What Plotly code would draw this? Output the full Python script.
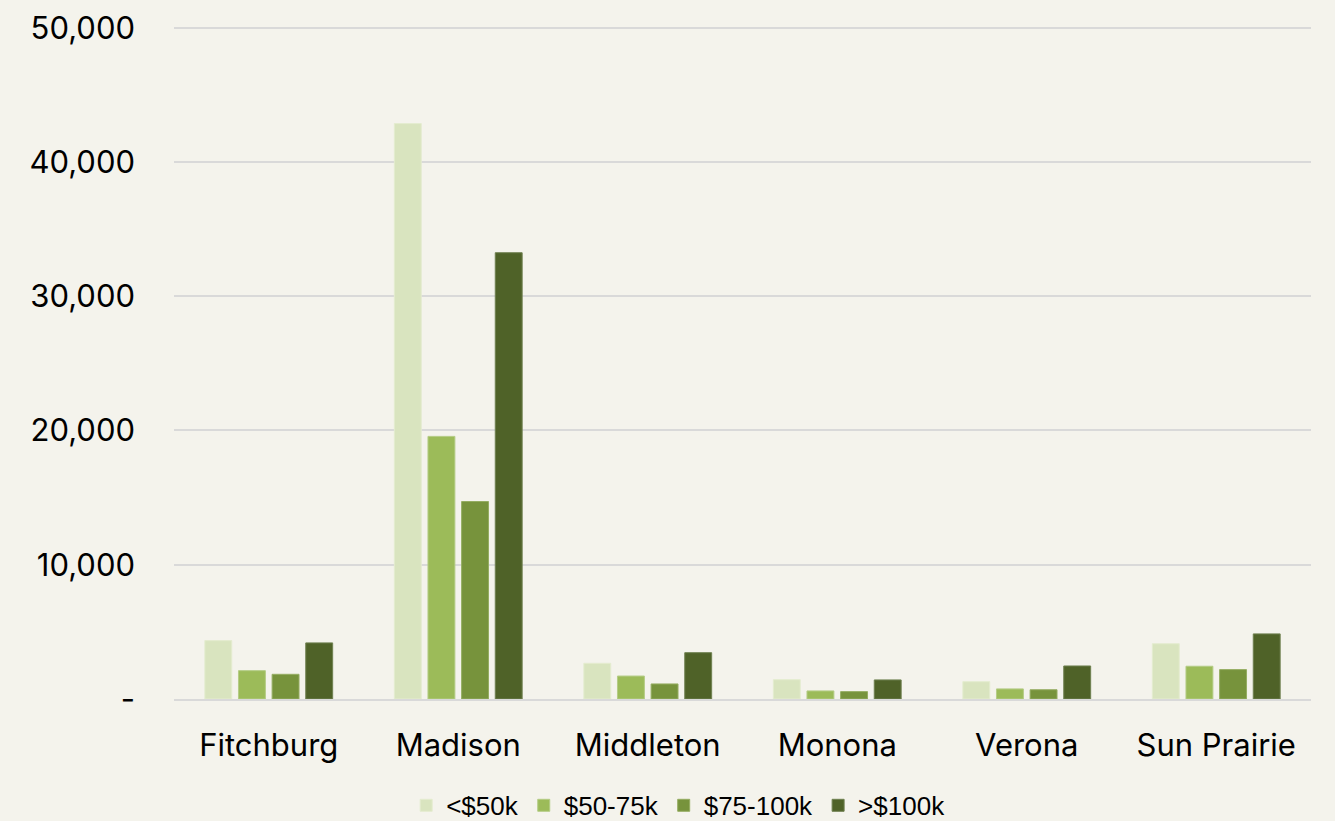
import plotly.graph_objects as go

# Household counts by income bracket for Dane County communities
cities = ["Fitchburg", "Madison", "Middleton", "Monona", "Verona", "Sun Prairie"]

under_50k = [4350, 42860, 2660, 1440, 1290, 4120]
from_50_75k = [2110, 19560, 1710, 600, 750, 2440]
from_75_100k = [1840, 14710, 1120, 550, 690, 2190]
over_100k = [4180, 33240, 3450, 1420, 2460, 4850]

series_names = ["<$50k", "$50-75k", "$75-100k", ">$100k"]
series_colors = ["#D9E4BF", "#9CBB59", "#77933C", "#4F6228"]
edge_colors = ["#E4ECCF", "#B4CC85", "#95AD62", "#6F8050"]

y_tick_vals = [0, 10000, 20000, 30000, 40000, 50000]
y_tick_text = ["-", "10,000", "20,000", "30,000", "40,000", "50,000"]

bg = "#F4F3EC"

fig = go.Figure()
for name, vals, col, edge in zip(series_names,
                                 [under_50k, from_50_75k, from_75_100k, over_100k],
                                 series_colors, edge_colors):
    fig.add_trace(go.Bar(
        x=cities, y=vals, name=name,
        marker=dict(color=col, line=dict(color=edge, width=1)),
    ))

fig.update_layout(
    width=1335, height=821,
    barmode="group",
    bargap=0.29,
    bargroupgap=0.2,
    paper_bgcolor=bg,
    plot_bgcolor=bg,
    margin=dict(l=174, r=24, t=21, b=122, autoexpand=False),
    font=dict(family="Inter", color="#000000"),
    legend=dict(
        orientation="h",
        xref="container", yref="container",
        x=0.508, xanchor="center",
        y=0.019, yanchor="middle",
        font=dict(family="Liberation Sans", size=26, color="#000000"),
        itemwidth=30,
        traceorder="normal",
        bgcolor="rgba(0,0,0,0)",
    ),
    xaxis=dict(
        showgrid=False,
        showline=True, linecolor="#D9D9D9", linewidth=2,
        tickfont=dict(family="Inter", size=31),
        ticks="", ticklabelstandoff=18,
    ),
    yaxis=dict(
        range=[0, 50500],
        tickvals=y_tick_vals, ticktext=y_tick_text,
        showgrid=True, gridcolor="#D9D9D9", gridwidth=1.5,
        zeroline=False,
        showline=False,
        tickfont=dict(family="Inter", size=31),
        ticks="", ticklabelstandoff=38,
    ),
)

fig.write_html("out.html")
